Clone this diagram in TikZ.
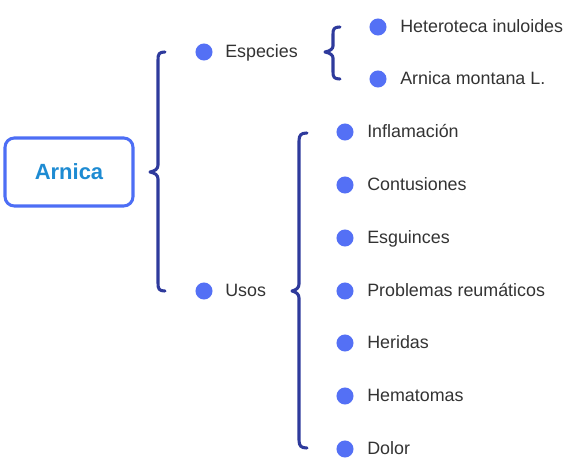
\documentclass[tikz,border=0pt]{standalone}
\usepackage{fontspec}
\setmainfont{Liberation Sans}
\definecolor{dotblue}{HTML}{5470F5}
\definecolor{bracenavy}{HTML}{2E3A9C}
\definecolor{boxblue}{HTML}{4D6EF5}
\definecolor{titleblue}{HTML}{1E8BD2}
\definecolor{txtgray}{HTML}{333333}
\begin{document}
\begin{tikzpicture}[x=0.75pt,y=-0.75pt,
  dotnode/.style={circle,fill=dotblue,inner sep=0pt,minimum size=12.8pt},
  lbl/.style={anchor=mid west,inner sep=0pt,yshift=-1.8pt,text=txtgray,font=\fontsize{13.4pt}{15pt}\selectfont},
  bracepath/.style={draw=bracenavy,line width=2.3pt,line cap=round,line join=round},
  rootbox/.style={draw=boxblue,line width=2.3pt,rounded corners=7pt,minimum width=96pt,minimum height=51pt,
    text=titleblue,font=\fontsize{16.5pt}{19pt}\selectfont\bfseries}]
\useasboundingbox (0,0) rectangle (571,466);
\node[rootbox] (root) at (69,172) {Arnica};

% level 1
\node[dotnode] (d1) at (204,52) {};
\node[lbl] (t1) at (225,52) {Especies};
\node[dotnode] (d2) at (204,291) {};
\node[lbl] (t2) at (225,291) {Usos};

% especies
\node[dotnode] (e1) at (378,27) {};
\node[lbl] (te1) at (400,27) {Heteroteca inuloides};
\node[dotnode] (e2) at (378,79) {};
\node[lbl] (te2) at (400,79) {Arnica montana L.};

% usos
\foreach \i/\y/\t in {1/132/Inflamación,2/185/Contusiones,3/238/Esguinces,4/291/Problemas reumáticos,5/343/Heridas,6/396/Hematomas,7/449/Dolor}{
  \node[dotnode] (u\i) at (345,\y) {};
  \node[lbl] (tu\i) at (367,\y) {\t};
}

% braces
\draw[bracepath] (165,52) .. controls (159,52) and (158,54) .. (158,60) -- (158,165)
  .. controls (158,169) and (155,171) .. (150,172) .. controls (155,173) and (158,175) .. (158,179)
  -- (158,283) .. controls (158,289) and (159,291) .. (165,291);
\draw[bracepath] (340,27) .. controls (334,27) and (333,29) .. (333,34) -- (333,46)
  .. controls (333,49) and (330,51) .. (325,52) .. controls (330,53) and (333,55) .. (333,58)
  -- (333,72) .. controls (333,77) and (334,79) .. (340,79);
\draw[bracepath] (307,133) .. controls (301,133) and (299,135) .. (299,141) -- (299,284)
  .. controls (299,288) and (296,290) .. (292,291) .. controls (296,292) and (299,294) .. (299,298)
  -- (299,440) .. controls (299,446) and (301,448) .. (307,448);
\end{tikzpicture}
\end{document}
